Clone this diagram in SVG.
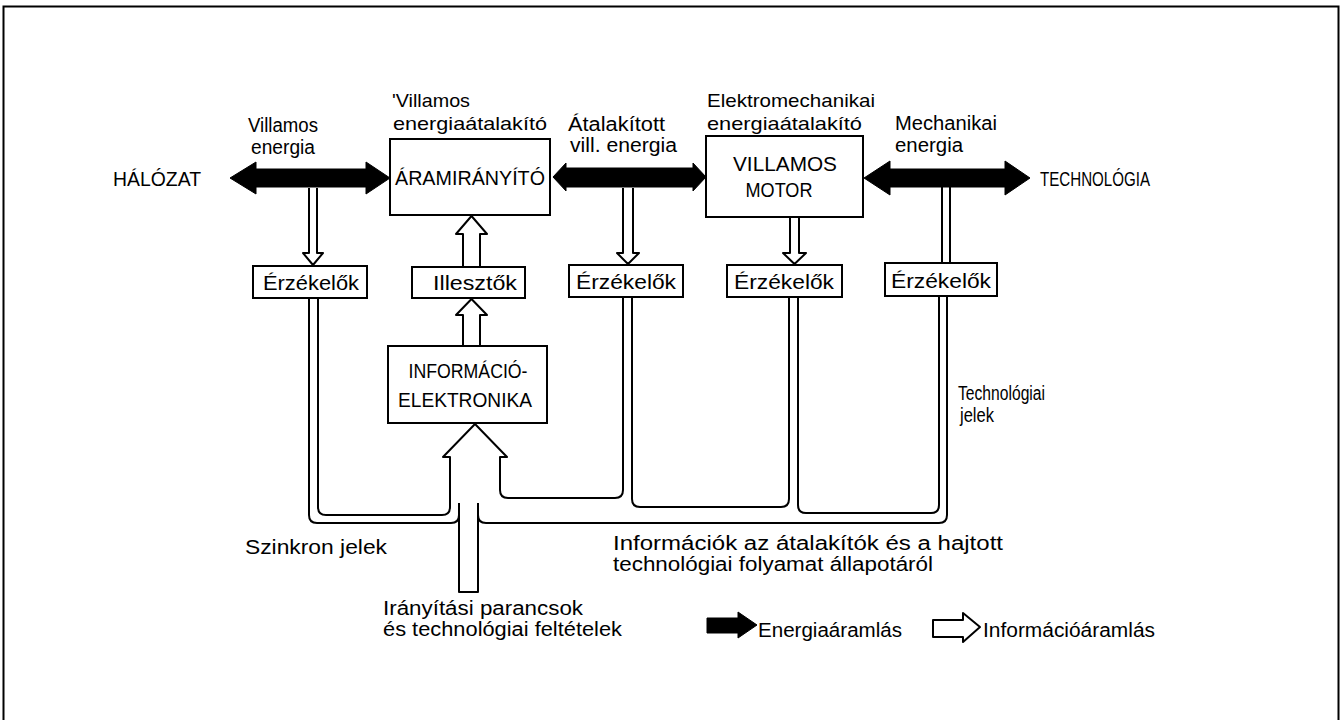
<svg xmlns="http://www.w3.org/2000/svg" width="1343" height="720" viewBox="0 0 1343 720">
<style>
.box{fill:#fff;stroke:#000;stroke-width:2}
.pipe{fill:none;stroke:#000;stroke-width:2;stroke-linejoin:round}
.energy{fill:#000;stroke:#000;stroke-width:1;stroke-linejoin:round}
.t{font-family:"Liberation Sans",Arial,sans-serif;font-size:20px;fill:#000}
.s{font-size:19px}
.c{text-anchor:middle}
</style>
<rect width="1343" height="720" fill="#fff"/>
<path d="M3.5,720 V6.5 H1338.5 V720" fill="none" stroke="#000" stroke-width="2"/>

<g id="connectors">
  <!-- energy flows -->
  <polygon class="energy" points="230,178 256,162 256,169 366,169 366,162 390,178 366,194 366,187 256,187 256,194"/>
  <polygon class="energy" points="553,177 566,163 566,168 693,168 693,163 706,177 693,191 693,187 566,187 566,191"/>
  <polygon class="energy" points="864,178 890,161 890,169 1005,169 1005,161 1030,178 1005,195 1005,187 890,187 890,195"/>
  <!-- information flows down to sensors -->
  <path class="pipe" d="M309,188 V253 H303 L313,265 L323,253 H317 V188"/>
  <path class="pipe" d="M623,188 V253 H617 L628,264 L639,253 H633 V188"/>
  <path class="pipe" d="M790,217 V253 H783 L794.5,264 L806,253 H799 V217"/>
  <path class="pipe" d="M942,187 V263 M950,187 V263"/>
  <!-- illesztők arrows -->
  <path class="pipe" d="M463,267 V234 H456 L471.5,216 L487,234 H480 V267"/>
  <path class="pipe" d="M463,346 V315 H456 L471.5,299 L487,315 H480 V346"/>
  <!-- collecting bus and big arrow -->
  <path class="pipe" d="M309,298 V515 Q309,523 317,523 H451 Q459,523 459,515"/>
  <path class="pipe" d="M459,503 V592 H478 V503"/>
  <path class="pipe" d="M318,298 V507 Q318,515 326,515 H442 Q450,515 450,507 V457 H443 L475,424 L507,457 H500 V490 Q500,498 508,498 H615 Q623,498 623,490 V297"/>
  <path class="pipe" d="M632,297 V499 Q632,507 640,507 H781 Q789,507 789,499 V297"/>
  <path class="pipe" d="M798,297 V505 Q798,513 806,513 H931 Q939,513 939,505 V296"/>
  <path class="pipe" d="M947,296 V515 Q947,523 939,523 H486 Q478,523 478,515"/>
</g>

<g id="node-halozat"><text class="t" x="113" y="186" textLength="88" lengthAdjust="spacingAndGlyphs">HÁLÓZAT</text></g>

<g id="node-aramiranyito">
  <rect class="box" x="390" y="139" width="160" height="76"/>
  <text class="t" x="395" y="185" textLength="150" lengthAdjust="spacingAndGlyphs">ÁRAMIRÁNYÍTÓ</text>
  <text class="t s" x="392" y="107" textLength="78" lengthAdjust="spacingAndGlyphs">'Villamos</text>
  <text class="t s" x="393" y="130" textLength="154" lengthAdjust="spacingAndGlyphs">energiaátalakító</text>
</g>

<g id="node-motor">
  <rect class="box" x="706" y="136" width="157" height="81"/>
  <text class="t c" x="785" y="171" textLength="104" lengthAdjust="spacingAndGlyphs">VILLAMOS</text>
  <text class="t c" x="779" y="197" textLength="67" lengthAdjust="spacingAndGlyphs">MOTOR</text>
  <text class="t s" x="707" y="107" textLength="168" lengthAdjust="spacingAndGlyphs">Elektromechanikai</text>
  <text class="t s" x="707" y="130" textLength="155" lengthAdjust="spacingAndGlyphs">energiaátalakító</text>
</g>

<g id="node-technologia"><text class="t" x="1040" y="186" textLength="110" lengthAdjust="spacingAndGlyphs">TECHNOLÓGIA</text></g>

<g id="node-erzekelo1">
  <rect class="box" x="253" y="266" width="114" height="32"/>
  <text class="t c" x="311" y="290" textLength="96" lengthAdjust="spacingAndGlyphs">Érzékelők</text>
</g>
<g id="node-illesztok">
  <rect class="box" x="412" y="267" width="113" height="31"/>
  <text class="t c" x="475" y="290" textLength="84" lengthAdjust="spacingAndGlyphs">Illesztők</text>
</g>
<g id="node-erzekelo2">
  <rect class="box" x="569" y="265" width="114" height="32"/>
  <text class="t c" x="626" y="289" textLength="100" lengthAdjust="spacingAndGlyphs">Érzékelők</text>
</g>
<g id="node-erzekelo3">
  <rect class="box" x="727" y="265" width="115" height="32"/>
  <text class="t c" x="784" y="289" textLength="100" lengthAdjust="spacingAndGlyphs">Érzékelők</text>
</g>
<g id="node-erzekelo4">
  <rect class="box" x="885" y="263" width="112" height="33"/>
  <text class="t c" x="941" y="288" textLength="100" lengthAdjust="spacingAndGlyphs">Érzékelők</text>
</g>

<g id="node-info">
  <rect class="box" x="388" y="346" width="159" height="77"/>
  <text class="t c" x="468" y="378" textLength="119" lengthAdjust="spacingAndGlyphs">INFORMÁCIÓ-</text>
  <text class="t c" x="465" y="407" textLength="134" lengthAdjust="spacingAndGlyphs">ELEKTRONIKA</text>
</g>

<g id="labels">
  <text class="t" x="248" y="132" textLength="70" lengthAdjust="spacingAndGlyphs">Villamos</text>
  <text class="t" x="251" y="154" textLength="64" lengthAdjust="spacingAndGlyphs">energia</text>
  <text class="t" x="568" y="131" textLength="97" lengthAdjust="spacingAndGlyphs">Átalakított</text>
  <text class="t" x="570" y="152" textLength="107" lengthAdjust="spacingAndGlyphs">vill. energia</text>
  <text class="t" x="895" y="130" textLength="102" lengthAdjust="spacingAndGlyphs">Mechanikai</text>
  <text class="t" x="895" y="152" textLength="68" lengthAdjust="spacingAndGlyphs">energia</text>
  <text class="t" x="958" y="400" textLength="87" lengthAdjust="spacingAndGlyphs">Technológiai</text>
  <text class="t" x="960" y="422" textLength="34" lengthAdjust="spacingAndGlyphs">jelek</text>
  <text class="t" x="245" y="554" textLength="142" lengthAdjust="spacingAndGlyphs">Szinkron jelek</text>
  <text class="t" x="613" y="550" textLength="390" lengthAdjust="spacingAndGlyphs">Információk az átalakítók és a hajtott</text>
  <text class="t" x="613" y="571" textLength="320" lengthAdjust="spacingAndGlyphs">technológiai folyamat állapotáról</text>
  <text class="t" x="383" y="615" textLength="200" lengthAdjust="spacingAndGlyphs">Irányítási parancsok</text>
  <text class="t" x="383" y="636" textLength="239" lengthAdjust="spacingAndGlyphs">és technológiai feltételek</text>
</g>

<g id="legend">
  <polygon class="energy" points="707,618 738,618 738,612 757,625 738,638 738,633 707,633"/>
  <text class="t" x="758" y="637" textLength="144" lengthAdjust="spacingAndGlyphs">Energiaáramlás</text>
  <path class="pipe" d="M933,620 H963 V613 L980,627 L963,642 V637 H933 Z"/>
  <text class="t" x="983" y="637" textLength="172" lengthAdjust="spacingAndGlyphs">Információáramlás</text>
</g>
</svg>
